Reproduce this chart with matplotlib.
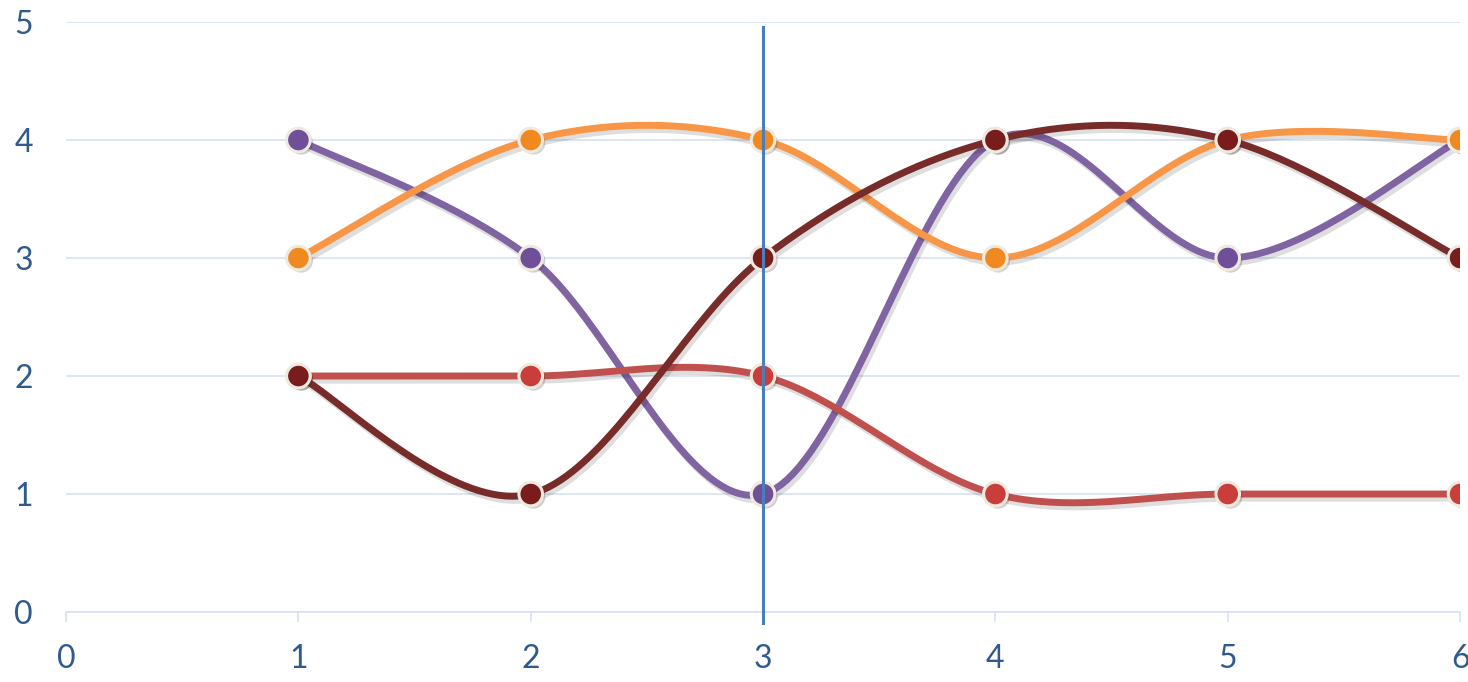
import numpy as np
import matplotlib.pyplot as plt
import matplotlib.patheffects as pe

x = [1, 2, 3, 4, 5, 6]
purple = [4, 3, 1, 4, 3, 4]
red = [2, 2, 2, 1, 1, 1]
orange = [3, 4, 4, 3, 4, 4]
maroon = [2, 1, 3, 4, 4, 3]
marker_x = 3

series = [
    (purple, '#8064a2', '#6f4f98'),
    (red, '#c0504d', '#c93d3a'),
    (orange, '#f79646', '#f08a20'),
    (maroon, '#772c2a', '#7a1c1c'),
]


def smooth(xs, ys, n=40):
    # bezier smoothing like a spreadsheet "smoothed line"
    p = np.column_stack([xs, ys]).astype(float)
    out = []
    for i in range(len(p) - 1):
        p0 = p[i - 1] if i > 0 else p[i]
        p1, p2 = p[i], p[i + 1]
        p3 = p[i + 2] if i + 2 < len(p) else p[i + 1]
        c1 = p1 + (p2 - p0) / 6
        c2 = p2 - (p3 - p1) / 6
        t = np.linspace(0, 1, n)[:, None]
        seg = ((1 - t) ** 3) * p1 + 3 * ((1 - t) ** 2) * t * c1 + 3 * (1 - t) * t ** 2 * c2 + t ** 3 * p2
        out.append(seg if i == 0 else seg[1:])
    s = np.vstack(out)
    return s[:, 0], s[:, 1]


plt.rcParams['font.family'] = ['Lato', 'DejaVu Sans']

fig = plt.figure(figsize=(14.68, 6.82), dpi=100)
ax = fig.add_axes([0.045, 0.1026, 0.9496, 0.8651])

grid_c = '#d5e2f2'
text_c = '#2f5a8c'

for k, (ys, lc, mc) in enumerate(series):
    sx, sy = smooth(x, ys)
    ax.plot(sx, sy, color=lc, lw=5, solid_capstyle='round', zorder=3 + k,
            path_effects=[pe.SimpleLineShadow(offset=(2, -3), alpha=0.13, shadow_color='black'), pe.Normal()])
    ax.plot(x, ys, 'o', ms=17, mfc=mc, mec='#efeae0', mew=2.2, zorder=3 + k,
            path_effects=[pe.SimplePatchShadow(offset=(2, -2), alpha=0.2), pe.Normal()])

ax.axvline(marker_x, ymin=-0.018, ymax=0.992, color='#4a7ebb', lw=2.2, zorder=10, clip_on=False)

ax.set_xlim(0, 6)
ax.set_ylim(0, 5)
ax.set_xticks(range(0, 7))
ax.set_yticks(range(0, 6))
ax.yaxis.grid(True, color=grid_c, lw=1.2)
ax.set_axisbelow(True)
for s in ['top', 'right', 'left']:
    ax.spines[s].set_visible(False)
ax.spines['bottom'].set_color(grid_c)
ax.spines['bottom'].set_linewidth(1.2)
ax.tick_params(axis='x', colors=grid_c, length=7, width=1.2, labelcolor=text_c, labelsize=23, pad=16)
ax.tick_params(axis='y', length=0, labelcolor=text_c, labelsize=23, pad=24)

fig.savefig('out.png', dpi=100)
